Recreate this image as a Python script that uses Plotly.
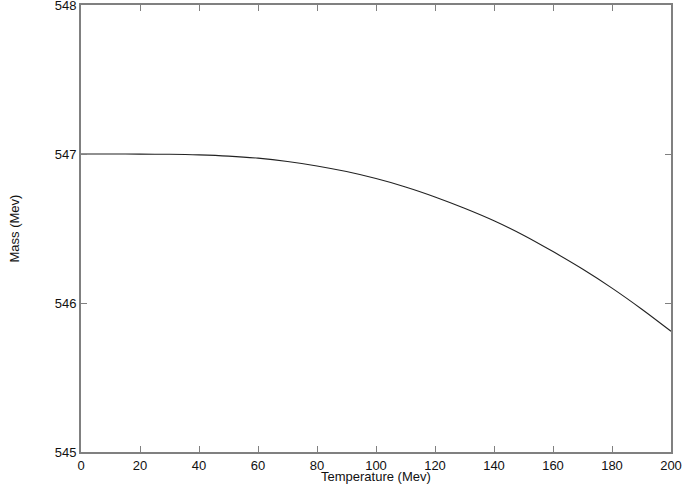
import plotly.graph_objects as go

# Temperature (Mev) and mass (Mev)
temperature = [0, 10, 20, 30, 40, 50, 60, 70, 80, 90, 100,
               110, 120, 130, 140, 150, 160, 170, 180, 190, 200]
mass = [547.000, 547.000, 546.999, 546.998, 546.994, 546.986, 546.972,
        546.950, 546.920, 546.882, 546.835, 546.779, 546.712, 546.636,
        546.552, 546.455, 546.345, 546.228, 546.100, 545.960, 545.810]

x_ticks = [0, 20, 40, 60, 80, 100, 120, 140, 160, 180, 200]
y_ticks = [545, 546, 547, 548]

axis_color = '#808080'
font = dict(family='Liberation Sans, Arial, sans-serif', size=13, color='#111111')

fig = go.Figure()
fig.add_trace(go.Scatter(
    x=temperature,
    y=mass,
    mode='lines',
    line=dict(color='#222222', width=1.1, shape='spline'),
    showlegend=False
))

fig.update_xaxes(
    range=[0, 200],
    tickvals=x_ticks,
    ticks='inside', ticklen=6, tickcolor=axis_color, tickwidth=1,
    showline=True, linecolor=axis_color, linewidth=2, mirror='ticks',
    showgrid=False, zeroline=False,
    tickfont=font, ticklabeloverflow='allow',
    automargin=False
)
fig.update_yaxes(
    range=[545, 548],
    tickvals=y_ticks,
    ticks='inside', ticklen=6, tickcolor=axis_color, tickwidth=1,
    showline=True, linecolor=axis_color, linewidth=2, mirror='ticks',
    showgrid=False, zeroline=False,
    tickfont=font, ticklabeloverflow='allow',
    automargin=False
)

# axis titles placed by hand, they sit very close to the tick labels
fig.add_annotation(text='Temperature (Mev)', xref='paper', yref='paper',
                   x=0.5, y=0, xanchor='center', yanchor='middle',
                   yshift=-24, showarrow=False, font=font)
fig.add_annotation(text='Mass (Mev)', xref='paper', yref='paper',
                   x=0, y=0.5, xanchor='center', yanchor='middle',
                   xshift=-67, textangle=-90, showarrow=False, font=font)

fig.update_layout(
    width=693, height=485,
    margin=dict(l=81, r=22, t=5, b=33),
    plot_bgcolor='white',
    paper_bgcolor='white',
    font=font
)

fig.write_html('out.html', config={'displayModeBar': False},
               post_script="document.body.style.margin='0';")
